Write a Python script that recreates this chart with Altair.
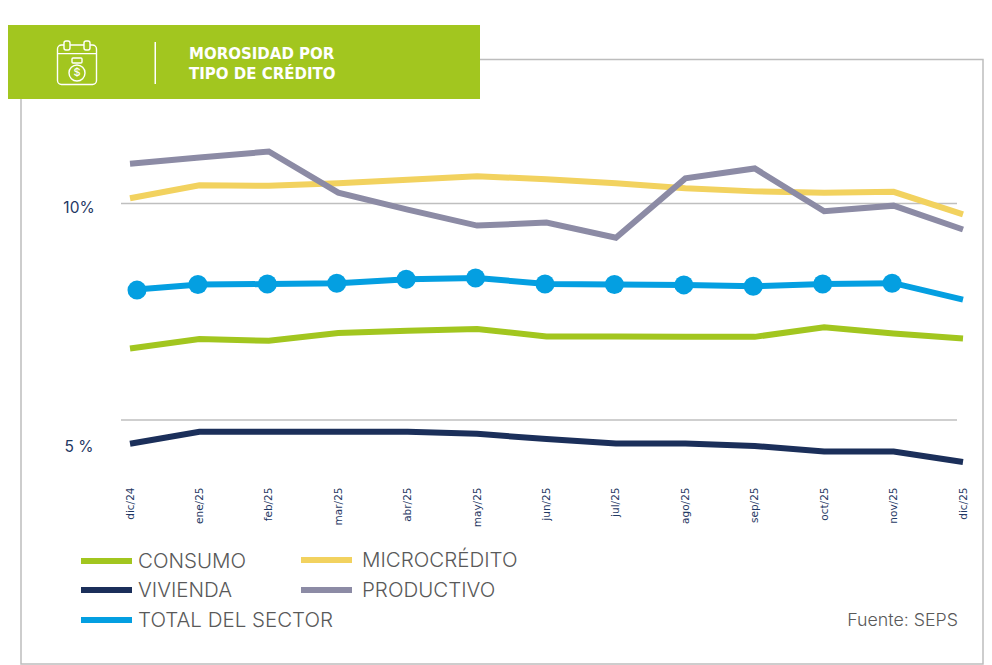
import altair as alt
import pandas as pd

months = ["dic/24", "ene/25", "feb/25", "mar/25", "abr/25", "may/25", "jun/25",
          "jul/25", "ago/25", "sep/25", "oct/25", "nov/25", "dic/25"]
consumo = [6.65, 6.87, 6.83, 7.01, 7.06, 7.10, 6.93, 6.93, 6.92, 6.92, 7.14, 7.00, 6.88]
microcredito = [10.12, 10.42, 10.41, 10.47, 10.55, 10.63, 10.56, 10.47, 10.35, 10.28, 10.25, 10.27, 9.75]
vivienda = [4.45, 4.73, 4.73, 4.73, 4.73, 4.68, 4.56, 4.46, 4.46, 4.40, 4.27, 4.27, 4.03]
productivo = [10.92, 11.06, 11.20, 10.25, 9.86, 9.49, 9.56, 9.21, 10.58, 10.81, 9.82, 9.95, 9.40]
total = [8.00, 8.13, 8.14, 8.16, 8.25, 8.28, 8.14, 8.13, 8.12, 8.09, 8.14, 8.16, 7.78]

names = ["CONSUMO", "MICROCRÉDITO", "VIVIENDA", "PRODUCTIVO", "TOTAL DEL SECTOR"]
colors = ["#A2C61F", "#F2D25F", "#1B2F5A", "#8C8BA5", "#049FE1"]
series = dict(zip(names, [consumo, microcredito, vivienda, productivo, total]))
grid_values = [5, 10]
y_labels = ["5 %", "10%"]
title_lines = ["MOROSIDAD POR", "TIPO DE CRÉDITO"]
source = "Fuente: SEPS"

W, H = 976, 657
FONT = "Inter"
NAVY = "#1F3864"
GREY = "#BFBFBF"
OFF = 8


def px(v):
    return alt.value(v - OFF)


x_scale = alt.Scale(domain=months, range=[122, 955], padding=0)
y_scale = alt.Scale(domain=[5, 10], range=[412, 195.5])
color_scale = alt.Scale(domain=names, range=colors)
one = pd.DataFrame({"k": [0]})


def deco(mark, x, y, x2=None, y2=None):
    enc = {"x": px(x), "y": px(y)}
    if x2 is not None:
        enc["x2"] = px(x2)
    if y2 is not None:
        enc["y2"] = px(y2)
    return alt.Chart(one).mark_rect(**mark).encode(**enc)


def text(s, x, y, size, color, align="left", weight=400, font=FONT):
    return alt.Chart(pd.DataFrame({"t": [s]})).mark_text(
        font=font, fontSize=size, color=color, align=align, baseline="middle", fontWeight=weight
    ).encode(x=px(x), y=px(y), text="t:N")


layers = []

# frame and header
layers.append(deco(dict(fillOpacity=0, stroke="#BDBDBD", strokeWidth=1.5), 21, 59.5, 983, 664))
layers.append(deco(dict(color="#A2C61F"), 8, 25, 480, 99))

# icon
white_line = dict(fillOpacity=0, stroke="white", strokeWidth=1.4)
layers.append(deco(dict(cornerRadius=4, **white_line), 57.5, 45, 96.5, 84.5))
layers.append(deco(dict(color="white"), 57.5, 53, 96.5, 54.2))
layers.append(deco(dict(cornerRadius=2, fill="#A2C61F", stroke="white", strokeWidth=1.4), 64, 41, 70, 50))
layers.append(deco(dict(cornerRadius=2, fill="#A2C61F", stroke="white", strokeWidth=1.4), 84, 41, 90, 50))
layers.append(deco(dict(cornerRadius=1, **white_line), 72, 58, 82, 63))
layers.append(alt.Chart(one).mark_point(shape="circle", size=256, stroke="white", strokeWidth=1.4, fill="#A2C61F", filled=False, fillOpacity=1).encode(x=px(77), y=px(73)))
layers.append(text("$", 77, 73, 11, "white", "center", 500))
layers.append(deco(dict(color="white"), 154.5, 42, 156, 84))
layers.append(text(title_lines[0], 189, 53.5, 15, "white", "left", 700, "DejaVu Sans"))
layers.append(text(title_lines[1], 189, 73.5, 15, "white", "left", 700, "DejaVu Sans"))

# grid lines
grid = pd.DataFrame({"v": grid_values})
layers.append(alt.Chart(grid).mark_rule(color=GREY, strokeWidth=1.5).encode(
    y=alt.Y("v:Q", scale=y_scale, axis=None), x=px(121), x2=px(957)))
layers.append(text(y_labels[1], 79, 207.5, 15.5, NAVY, "center"))
layers.append(text(y_labels[0], 79, 446.5, 15.5, NAVY, "center"))

# x axis carrier (labels only)
axis_df = pd.DataFrame({"m": months})
layers.append(alt.Chart(axis_df).mark_point(opacity=0).encode(
    x=alt.X("m:N", scale=x_scale, sort=months, title=None, axis=alt.Axis(
        orient="bottom", offset=-(H - 479), labelAngle=270, labelFont="DejaVu Sans",
        labelFontSize=10.5, labelColor=NAVY, domain=False, ticks=False, grid=False,
        labelPadding=0, labelOverlap=False, labelBaseline="middle", labelAlign="right")),
    y=alt.value(0)))

# series
for name in ["CONSUMO", "VIVIENDA", "TOTAL DEL SECTOR", "MICROCRÉDITO", "PRODUCTIVO"]:
    df = pd.DataFrame({"mes": months, "valor": series[name], "serie": name})
    layers.append(alt.Chart(df).mark_line(strokeWidth=6, strokeJoin="miter").encode(
        x=alt.X("mes:N", scale=x_scale, sort=months),
        y=alt.Y("valor:Q", scale=y_scale),
        color=alt.Color("serie:N", scale=color_scale, legend=None)))
    if name == "TOTAL DEL SECTOR":
        layers.append(alt.Chart(df.iloc[:1]).mark_circle(size=361, opacity=1, xOffset=7).encode(
            x=alt.X("mes:N", scale=x_scale, sort=months),
            y=alt.Y("valor:Q", scale=y_scale),
            color=alt.Color("serie:N", scale=color_scale, legend=None)))
        layers.append(alt.Chart(df.iloc[1:-1]).mark_circle(size=361, opacity=1, xOffset=-1.5).encode(
            x=alt.X("mes:N", scale=x_scale, sort=months),
            y=alt.Y("valor:Q", scale=y_scale),
            color=alt.Color("serie:N", scale=color_scale, legend=None)))

# legend
legend_slots = [(81, 138, 561), (301, 362, 560), (81, 138, 590), (301, 362, 590), (81, 138, 620)]
for name, (sx, tx, ly) in zip(names, legend_slots):
    lg = pd.DataFrame({"serie": [name]})
    layers.append(alt.Chart(lg).mark_rect().encode(
        x=px(sx), x2=px(sx + 51), y=px(ly - 3), y2=px(ly + 3),
        color=alt.Color("serie:N", scale=color_scale, legend=None)))
    layers.append(text(name, tx, ly + 0.5, 20.5, "#595959", "left", 300))

layers.append(text(source, 958, 620.5, 17.8, "#595959", "right", 300))

chart = alt.layer(*layers).resolve_scale(x="shared", y="shared").properties(
    width=W, height=H, padding=0, autosize=alt.AutoSizeParams(type="none"), background="white"
).configure_view(stroke=None)

chart.save("out.html", embed_options={"renderer": "svg", "actions": False})
